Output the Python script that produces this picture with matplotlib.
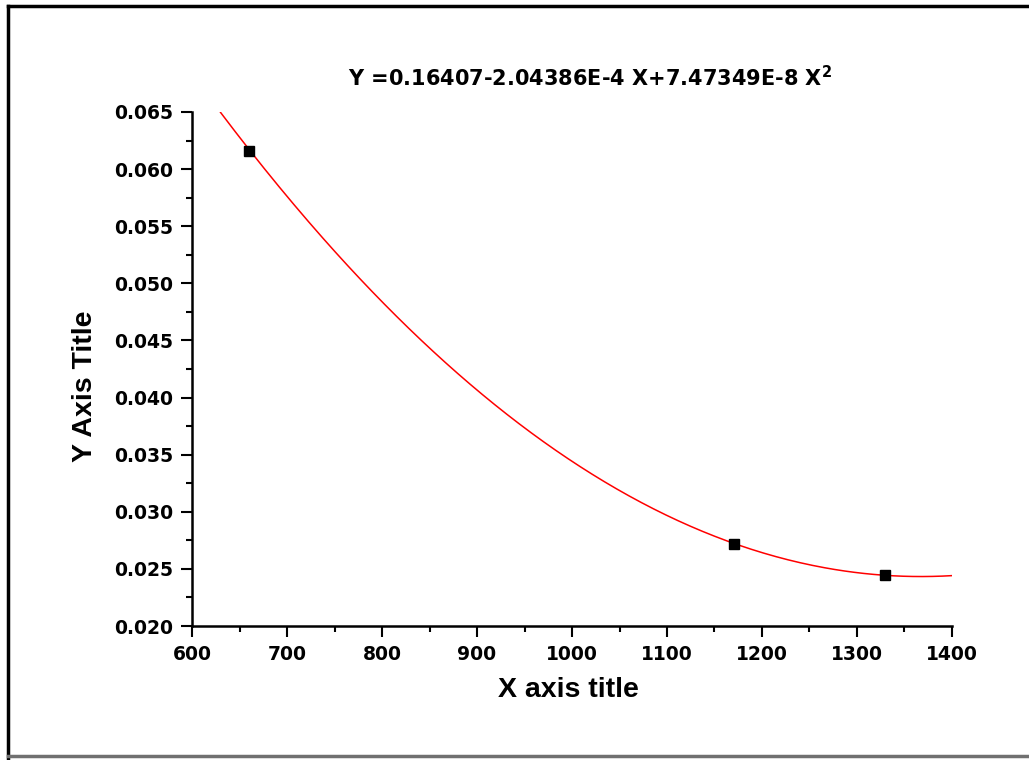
import numpy as np
import matplotlib
matplotlib.use("Agg")
import matplotlib.pyplot as plt
from matplotlib.lines import Line2D

# measured points
x_pts = [660, 1171, 1330]
y_pts = [0.0616, 0.0272, 0.02448]

# fit coefficients, as printed on the chart (c0, c1, c2)
fit_coef = [0.16407, -2.04386e-4, 7.47349e-8]
fit_range = [630, 1400]
fit_label = "Y =0.16407-2.04386E-4 X+7.47349E-8 X$^{\\mathbf{2}}$"

W, H = 1029, 760
fig = plt.figure(figsize=(W / 100, H / 100), dpi=100)
fig.patch.set_facecolor("white")

ax = fig.add_axes([192 / W, 1 - 626 / H, (952 - 192) / W, (626 - 112) / H])

xf = np.linspace(fit_range[0], fit_range[1], 300)
yf = np.polynomial.polynomial.polyval(xf, fit_coef)
ax.plot(xf, yf, color="red", lw=1.1, zorder=2)
ax.plot(x_pts, y_pts, ls="none", marker="s", ms=6.5, color="black", zorder=3)

ax.set_xlim(600, 1400)
ax.set_ylim(0.020, 0.065)
ax.set_xticks(np.arange(600, 1401, 100))
ax.set_xticks(np.arange(650, 1400, 100), minor=True)
ax.set_yticks(np.arange(0.020, 0.0651, 0.005))
ax.set_yticks(np.arange(0.0225, 0.065, 0.005), minor=True)
ax.set_yticklabels([f"{v:.3f}" for v in np.arange(0.020, 0.0651, 0.005)])

for s in ["top", "right"]:
    ax.spines[s].set_visible(False)
for s in ["left", "bottom"]:
    ax.spines[s].set_linewidth(1.8)
ax.tick_params(which="major", direction="out", length=8, width=1.5, pad=5.5)
ax.tick_params(which="minor", direction="out", length=4, width=1.5)
for lab in ax.get_xticklabels() + ax.get_yticklabels():
    lab.set_fontfamily("DejaVu Sans")
    lab.set_fontweight("bold")
    lab.set_fontsize(13.5)

fig.text(568 / W, 1 - 690 / H, "X axis title", ha="center", va="center",
         fontfamily="Liberation Sans", fontweight="bold", fontsize=20.5)
fig.text(85 / W, 1 - 386 / H, "Y Axis Title", ha="center", va="center", rotation=90,
         fontfamily="Liberation Sans", fontweight="bold", fontsize=20.5)
fig.text(348 / W, 1 - 78 / H, fit_label, ha="left", va="center",
         fontfamily="DejaVu Sans", fontweight="bold", fontsize=15)

# window-like frame
fig.add_artist(Line2D([8 / W, 8 / W], [0, 1 - 6 / H], color="black", lw=2.5, transform=fig.transFigure))
fig.add_artist(Line2D([8 / W, 1], [1 - 6 / H, 1 - 6 / H], color="black", lw=2.5, transform=fig.transFigure))
fig.add_artist(Line2D([8 / W, 1], [1 - 756 / H, 1 - 756 / H], color="#707070", lw=2.5, transform=fig.transFigure))

fig.savefig("out.png", dpi=100)
